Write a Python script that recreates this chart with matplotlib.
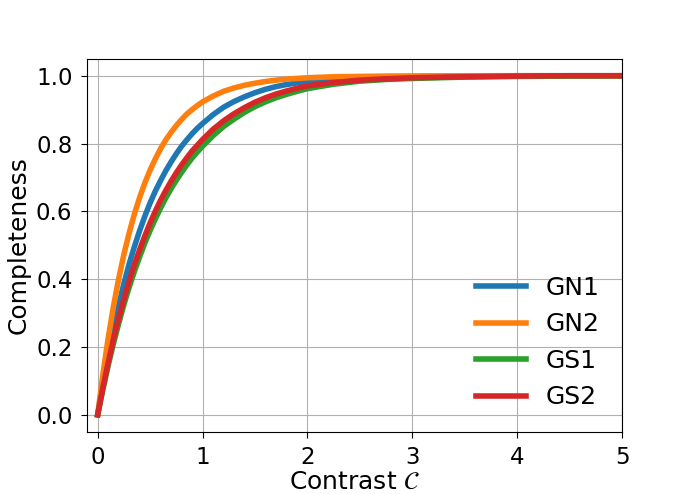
import matplotlib
matplotlib.use("Agg")
import matplotlib.pyplot as plt

# kontrast a úplnost
contrast = [0, 0.05, 0.1, 0.15, 0.2, 0.25, 0.3, 0.35, 0.4, 0.45, 0.5, 0.55, 0.6, 0.65,
            0.7, 0.75, 0.8, 0.85, 0.9, 0.95, 1.0, 1.1, 1.2, 1.3, 1.4, 1.5, 1.6, 1.7,
            1.8, 1.9, 2.0, 2.25, 2.5, 2.75, 3.0, 3.5, 4.0, 4.5, 5.0]

gn1 = [0.0, 0.093, 0.178, 0.255, 0.324, 0.387, 0.445, 0.496, 0.543, 0.586, 0.625, 0.660,
       0.691, 0.720, 0.746, 0.770, 0.792, 0.811, 0.829, 0.845, 0.859, 0.885, 0.907, 0.924,
       0.938, 0.950, 0.960, 0.968, 0.974, 0.979, 0.984, 0.991, 0.995, 0.997, 0.998,
       0.999, 1.0, 1.0, 1.0]
gn2 = [0.0, 0.120, 0.226, 0.319, 0.401, 0.473, 0.536, 0.592, 0.641, 0.684, 0.722, 0.755,
       0.785, 0.811, 0.833, 0.853, 0.871, 0.887, 0.900, 0.912, 0.923, 0.940, 0.954, 0.964,
       0.972, 0.978, 0.983, 0.987, 0.990, 0.992, 0.994, 0.997, 0.998, 0.999, 0.999,
       1.0, 1.0, 1.0, 1.0]
gs1 = [0.0, 0.075, 0.145, 0.210, 0.269, 0.325, 0.376, 0.423, 0.466, 0.507, 0.544, 0.578,
       0.610, 0.640, 0.667, 0.692, 0.715, 0.737, 0.757, 0.775, 0.792, 0.823, 0.850, 0.872,
       0.892, 0.909, 0.923, 0.935, 0.945, 0.954, 0.962, 0.975, 0.984, 0.989, 0.992,
       0.996, 0.998, 0.999, 1.0]
gs2 = [0.0, 0.080, 0.154, 0.222, 0.284, 0.341, 0.394, 0.443, 0.487, 0.528, 0.566, 0.601,
       0.633, 0.662, 0.689, 0.714, 0.737, 0.758, 0.778, 0.795, 0.812, 0.842, 0.867, 0.888,
       0.906, 0.922, 0.935, 0.946, 0.955, 0.963, 0.970, 0.980, 0.987, 0.991, 0.994,
       0.997, 0.999, 1.0, 1.0]

series = {"GN1": gn1, "GN2": gn2, "GS1": gs1, "GS2": gs2}

fig = plt.figure(figsize=(6.92, 4.94), dpi=100)
ax = fig.add_axes([0.126, 0.126, 0.773, 0.755])

for name, vals in series.items():
    ax.plot(contrast, vals, lw=4, label=name)

ax.set_xlim(-0.1, 5)
ax.set_ylim(-0.05, 1.05)
ax.grid(True)
ax.tick_params(labelsize=16.5, length=4.3, pad=6.3)
ax.set_xlabel(r"Contrast $\mathcal{C}$", fontsize=18, labelpad=0)
ax.set_ylabel("Completeness", fontsize=18, labelpad=4)
ax.legend(loc="lower right", frameon=False, fontsize=18)

fig.savefig("out.png", dpi=100)
